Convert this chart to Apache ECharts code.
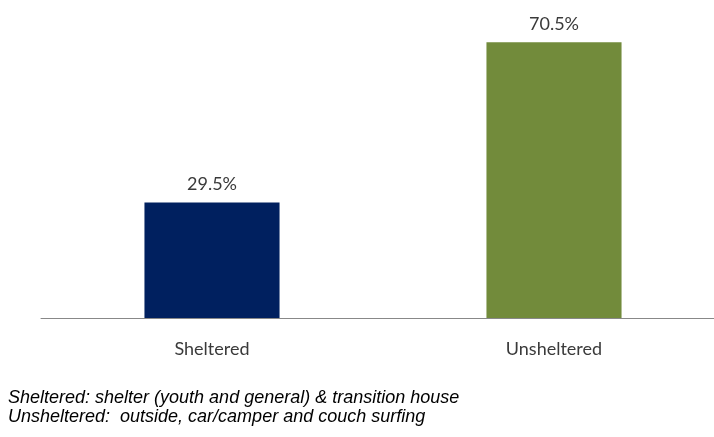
<!DOCTYPE html>
<html><head><meta charset="utf-8">
<script src="https://cdn.jsdelivr.net/npm/echarts@6/dist/echarts.min.js"></script>
<style>html,body{margin:0;padding:0;background:#fff;overflow:hidden}#c{width:725px;height:437px}</style>
</head><body><div id="c"></div>
<script>
const categories = ['Sheltered', 'Unsheltered'];
const values = [29.5, 70.5];
const barColors = ['#00205F', '#728B3B'];
const notes = ['Sheltered: shelter (youth and general) & transition house', 'Unsheltered:  outside, car/camper and couch surfing'];

const chart = echarts.init(document.getElementById('c'));
chart.setOption({
  animation: false,
  grid: { left: 41, right: 0, top: 5, bottom: 119 },
  xAxis: {
    type: 'category', data: categories,
    axisLine: { lineStyle: { color: '#888', width: 1 } },
    axisTick: { show: false },
    axisLabel: { color: '#3a3a3a', fontFamily: 'Lato', fontSize: 18, margin: 22 }
  },
  yAxis: { type: 'value', min: 0, max: 80, show: false, splitLine: { show: false } },
  series: [{
    type: 'bar', barWidth: '39.5%',
    data: values.map((v, i) => ({ value: v, itemStyle: { color: barColors[i] } })),
    label: { show: true, position: 'top', distance: 9, formatter: p => p.value.toFixed(1) + '%', color: '#3a3a3a', fontFamily: 'Lato', fontSize: 18 }
  }],
  graphic: [{
    type: 'text', left: 8, top: 388,
    style: { text: notes.join('\n'), font: 'italic 18px "Liberation Sans", Arial', fill: '#000', lineHeight: 19 }
  }]
});
</script></body></html>
